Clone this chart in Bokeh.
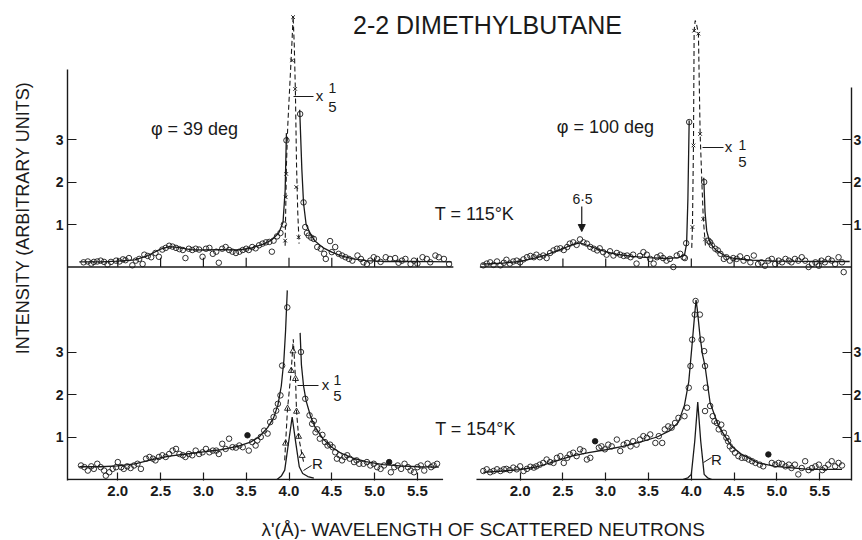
from math import pi
from bokeh.plotting import figure
from bokeh.layouts import row, column
from bokeh.models import Range1d, LinearAxis, FixedTicker, Label, Arrow, NormalHead
from bokeh.embed import file_html
from bokeh.resources import INLINE

# ---------------------------------------------------------------- data
lambda_ticks = [2.0, 2.5, 3.0, 3.5, 4.0, 4.5, 5.0, 5.5]
lambda_tick_labels = ["2.0", "2.5", "3.0", "3.5", "4.0", "4.5", "5.0", "5.5"]
intensity_ticks = [1, 2, 3]
intensity_tick_labels = ["1", "2", "3"]

# top-left: phi = 39 deg, T = 115 K
tl_lam = [1.60, 1.65, 1.69, 1.72, 1.76, 1.80, 1.84, 1.88, 1.92, 1.98, 2.02, 2.06, 2.09, 2.13, 2.17, 2.21,
          2.25, 2.29, 2.31, 2.35, 2.39, 2.44, 2.48, 2.52, 2.56, 2.60, 2.64, 2.68, 2.72, 2.76, 2.79, 2.83,
          2.87, 2.91, 2.95, 2.99, 3.03, 3.07, 3.11, 3.15, 3.18, 3.22, 3.26, 3.30, 3.34, 3.38, 3.42, 3.46,
          3.50, 3.53, 3.57, 3.61, 3.65, 3.69, 3.73, 3.77, 3.80, 3.82, 3.86, 3.90, 3.94, 3.97,
          4.13, 4.17, 4.19, 4.21, 4.23, 4.26, 4.29, 4.33, 4.37, 4.41, 4.43, 4.48, 4.50, 4.54, 4.58, 4.62,
          4.66, 4.70, 4.74, 4.80, 4.84, 4.87, 4.91, 4.95, 4.99, 5.03, 5.07, 5.13, 5.18, 5.24, 5.28, 5.32,
          5.36, 5.42, 5.46, 5.50, 5.56, 5.61, 5.65, 5.71, 5.75, 5.81, 5.87]
tl_int = [0.11, 0.13, 0.08, 0.12, 0.13, 0.15, 0.12, 0.06, 0.12, 0.15, 0.13, 0.18, 0.16, 0.21, 0.04, 0.15,
          0.19, 0.07, 0.29, 0.26, 0.23, 0.33, 0.24, 0.41, 0.45, 0.50, 0.48, 0.45, 0.42, 0.40, 0.21, 0.43,
          0.40, 0.43, 0.41, 0.24, 0.43, 0.45, 0.31, 0.36, 0.10, 0.43, 0.47, 0.40, 0.36, 0.33, 0.36, 0.40,
          0.43, 0.40, 0.47, 0.44, 0.51, 0.55, 0.58, 0.59, 0.36, 0.62, 0.72, 0.80, 1.00, 2.98,
          3.60, 1.52, 0.94, 0.80, 0.74, 0.69, 0.66, 0.47, 0.43, 0.31, 0.19, 0.61, 0.35, 0.47, 0.31, 0.27,
          0.23, 0.19, 0.15, 0.27, 0.19, 0.11, 0.07, 0.15, 0.23, 0.19, 0.12, 0.23, 0.19, 0.21, 0.10, 0.15,
          0.19, 0.07, 0.15, 0.08, 0.23, 0.19, 0.11, 0.27, 0.23, 0.19, 0.07]
tl_fit_left_lam = [1.55, 1.80, 2.00, 2.20, 2.35, 2.50, 2.60, 2.70, 2.85, 3.00, 3.20, 3.40, 3.55, 3.70,
                   3.80, 3.88, 3.93, 3.955, 3.97]
tl_fit_left_int = [0.12, 0.12, 0.14, 0.17, 0.27, 0.42, 0.48, 0.46, 0.41, 0.40, 0.41, 0.40, 0.44, 0.54,
                   0.64, 0.80, 1.05, 1.80, 3.15]
tl_fit_right_lam = [4.125, 4.15, 4.17, 4.20, 4.25, 4.30, 4.40, 4.50, 4.60, 4.75, 4.90, 5.10, 5.40, 5.90]
tl_fit_right_int = [3.70, 2.30, 1.50, 1.00, 0.78, 0.62, 0.45, 0.35, 0.27, 0.19, 0.15, 0.13, 0.13, 0.12]
tl_fifth_lam = [3.955, 3.962, 3.968, 4.036, 4.048, 4.072, 4.085, 4.112]
tl_fifth_int = [0.62, 1.64, 2.19, 4.86, 5.88, 4.19, 1.88, 0.70]
tl_fifth_fit_lam = [3.955, 3.962, 3.970, 3.985, 4.010, 4.035, 4.048, 4.062, 4.075, 4.088, 4.102, 4.118]
tl_fifth_fit_int = [0.50, 1.40, 2.40, 3.30, 4.30, 5.30, 5.90, 5.20, 4.10, 2.40, 1.30, 0.55]

# top-right: phi = 100 deg, T = 115 K
tr_lam = [1.57, 1.61, 1.65, 1.69, 1.73, 1.77, 1.81, 1.84, 1.88, 1.92, 1.96, 2.00, 2.04, 2.08, 2.12, 2.16,
          2.19, 2.23, 2.27, 2.31, 2.35, 2.39, 2.43, 2.47, 2.51, 2.55, 2.58, 2.62, 2.66, 2.70, 2.74, 2.78,
          2.82, 2.86, 2.90, 2.93, 2.97, 3.01, 3.05, 3.09, 3.13, 3.17, 3.21, 3.25, 3.29, 3.32, 3.36, 3.40,
          3.44, 3.48, 3.52, 3.56, 3.60, 3.64, 3.67, 3.71, 3.75, 3.79, 3.83, 3.87, 3.91, 3.925, 3.94, 3.975,
          4.15, 4.20, 4.22, 4.24, 4.28, 4.31, 4.34, 4.38, 4.41, 4.45, 4.49, 4.53, 4.57, 4.61, 4.65, 4.69,
          4.73, 4.78, 4.82, 4.86, 4.90, 4.94, 4.98, 5.02, 5.06, 5.10, 5.14, 5.17, 5.21, 5.25, 5.29, 5.33,
          5.37, 5.41, 5.45, 5.49, 5.52, 5.56, 5.60, 5.64, 5.68, 5.72, 5.76, 5.78]
tr_int = [0.04, 0.08, 0.11, 0.05, 0.13, 0.04, 0.10, 0.17, 0.08, 0.13, 0.15, 0.11, 0.18, 0.23, 0.26, 0.23,
          0.29, 0.23, 0.27, 0.21, 0.33, 0.39, 0.43, 0.44, 0.40, 0.47, 0.55, 0.58, 0.52, 0.65, 0.58, 0.55,
          0.47, 0.43, 0.39, 0.44, 0.35, 0.29, 0.37, 0.27, 0.33, 0.29, 0.26, 0.27, 0.23, 0.29, 0.08, 0.26,
          0.35, 0.29, 0.19, 0.08, 0.23, 0.27, 0.21, 0.15, 0.19, 0.00, 0.27, 0.31, 0.23, 0.21, 0.56, 3.41,
          2.00, 0.62, 0.58, 0.51, 0.43, 0.39, 0.31, 0.19, 0.23, 0.15, 0.21, 0.19, 0.25, 0.15, 0.21, 0.11,
          0.27, 0.07, 0.11, 0.03, 0.15, 0.19, 0.07, 0.15, 0.11, 0.19, 0.15, 0.11, 0.19, 0.15, 0.23, 0.15,
          0.00, 0.07, 0.11, 0.03, 0.15, 0.11, 0.19, 0.15, 0.07, 0.23, 0.11, -0.12]
tr_fit_left_lam = [1.55, 1.80, 2.00, 2.20, 2.35, 2.50, 2.60, 2.70, 2.80, 2.95, 3.10, 3.30, 3.50, 3.70,
                   3.85, 3.92, 3.945, 3.96, 3.975]
tr_fit_left_int = [0.07, 0.09, 0.13, 0.22, 0.32, 0.43, 0.52, 0.57, 0.50, 0.39, 0.31, 0.25, 0.22, 0.20,
                   0.22, 0.28, 0.55, 1.60, 3.45]
tr_fit_right_lam = [4.145, 4.16, 4.18, 4.21, 4.25, 4.30, 4.40, 4.50, 4.70, 5.00, 5.40, 5.85]
tr_fit_right_int = [2.10, 1.30, 0.85, 0.62, 0.48, 0.38, 0.26, 0.20, 0.16, 0.14, 0.13, 0.13]
tr_fifth_lam = [4.013, 4.025, 4.033, 4.083, 4.103, 4.140, 4.160]
tr_fifth_int = [0.94, 2.86, 5.56, 5.49, 3.13, 1.13, 0.65]
tr_fifth_fit_lam = [4.005, 4.013, 4.025, 4.033, 4.045, 4.060, 4.083, 4.103, 4.125, 4.140, 4.165]
tr_fifth_fit_int = [0.45, 0.94, 2.86, 5.56, 5.80, 5.72, 5.49, 3.13, 1.90, 1.13, 0.50]
tr_peak_marker = 2.72  # "6.5" arrow position

# bottom-left: phi = 39 deg, T = 154 K
bl_lam = [1.57, 1.61, 1.65, 1.69, 1.72, 1.76, 1.80, 1.84, 1.86, 1.90, 1.94, 1.98, 2.00, 2.04, 2.07, 2.11,
          2.15, 2.19, 2.23, 2.27, 2.33, 2.37, 2.41, 2.44, 2.48, 2.52, 2.56, 2.60, 2.64, 2.68, 2.72, 2.76,
          2.79, 2.83, 2.87, 2.91, 2.95, 2.99, 3.03, 3.07, 3.11, 3.15, 3.18, 3.22, 3.26, 3.30, 3.34, 3.38,
          3.42, 3.46, 3.53, 3.57, 3.61, 3.63, 3.67, 3.71, 3.75, 3.78, 3.82, 3.85, 3.87, 3.90, 3.92, 3.98,
          4.14, 4.19, 4.24, 4.27, 4.29, 4.31, 4.33, 4.36, 4.39, 4.42, 4.45, 4.48, 4.51, 4.54, 4.56, 4.59,
          4.62, 4.65, 4.68, 4.71, 4.76, 4.79, 4.82, 4.87, 4.91, 4.95, 4.99, 5.03, 5.07, 5.11, 5.19, 5.23,
          5.27, 5.31, 5.35, 5.39, 5.42, 5.46, 5.50, 5.54, 5.58, 5.62, 5.66, 5.69, 5.73]
bl_int = [0.33, 0.29, 0.21, 0.31, 0.25, 0.37, 0.29, 0.21, 0.09, 0.17, 0.25, 0.29, 0.41, 0.29, 0.25, 0.31,
          0.27, 0.33, 0.37, 0.25, 0.49, 0.53, 0.49, 0.45, 0.53, 0.57, 0.53, 0.60, 0.68, 0.72, 0.60, 0.57,
          0.53, 0.60, 0.57, 0.68, 0.60, 0.64, 0.72, 0.64, 0.68, 0.68, 0.60, 0.84, 0.72, 0.96, 0.76, 0.75,
          0.80, 0.76, 0.68, 0.88, 0.80, 0.92, 1.00, 1.15, 1.08, 1.35, 1.47, 1.62, 1.78, 1.98, 2.68, 4.05,
          3.00, 1.90, 1.51, 1.31, 1.38, 1.11, 1.18, 0.96, 1.05, 0.88, 0.80, 0.82, 0.76, 0.64, 0.49, 0.57,
          0.45, 0.53, 0.57, 0.49, 0.41, 0.45, 0.37, 0.37, 0.41, 0.33, 0.37, 0.29, 0.25, 0.33, 0.17, 0.29,
          0.33, 0.25, 0.37, 0.29, 0.21, 0.17, 0.29, 0.33, 0.21, 0.37, 0.29, 0.33, 0.37]
bl_filled_lam = [3.515, 5.17]
bl_filled_int = [1.04, 0.41]
bl_fit_left_lam = [1.55, 1.80, 2.00, 2.20, 2.40, 2.60, 2.80, 3.00, 3.20, 3.40, 3.55, 3.65, 3.75, 3.82,
                   3.87, 3.91, 3.94, 3.96, 3.98]
bl_fit_left_int = [0.30, 0.30, 0.32, 0.37, 0.47, 0.55, 0.60, 0.65, 0.70, 0.78, 0.88, 1.00, 1.22, 1.45,
                   1.75, 2.20, 2.80, 3.50, 4.45]
bl_fit_right_lam = [4.13, 4.145, 4.17, 4.20, 4.25, 4.30, 4.40, 4.50, 4.60, 4.75, 4.90, 5.10, 5.30, 5.50, 5.75]
bl_fit_right_int = [3.45, 2.70, 2.20, 1.85, 1.50, 1.25, 0.95, 0.76, 0.63, 0.50, 0.42, 0.35, 0.32, 0.30, 0.29]
bl_fifth_lam = [3.960, 3.983, 4.026, 4.047, 4.076, 4.088, 4.112, 4.154]
bl_fifth_int = [0.85, 1.67, 2.56, 3.02, 2.37, 1.60, 1.01, 0.56]
bl_fifth_fit_lam = [3.950, 3.960, 3.983, 4.026, 4.050, 4.076, 4.088, 4.112, 4.154, 4.170]
bl_fifth_fit_int = [0.45, 0.85, 1.67, 2.56, 3.30, 2.37, 1.60, 1.01, 0.56, 0.42]
bl_res_lam = [3.86, 3.91, 3.95, 3.99, 4.037, 4.08, 4.12, 4.16, 4.22, 4.29]
bl_res_int = [0.00, 0.08, 0.22, 0.80, 1.47, 0.85, 0.30, 0.14, 0.07, 0.03]

# bottom-right: phi = 100 deg, T = 154 K
br_lam = [1.57, 1.61, 1.65, 1.69, 1.73, 1.77, 1.81, 1.84, 1.88, 1.92, 1.96, 2.00, 2.04, 2.08, 2.12, 2.16,
          2.19, 2.23, 2.27, 2.31, 2.35, 2.39, 2.43, 2.47, 2.51, 2.55, 2.58, 2.62, 2.66, 2.70, 2.74, 2.78,
          2.82, 2.92, 2.95, 2.99, 3.03, 3.07, 3.13, 3.17, 3.21, 3.25, 3.29, 3.32, 3.36, 3.40, 3.44, 3.48,
          3.52, 3.58, 3.62, 3.66, 3.69, 3.73, 3.77, 3.81, 3.85, 3.92, 3.95, 3.97, 3.99, 4.01, 4.04, 4.05,
          4.10,
          4.12, 4.15, 4.16, 4.17, 4.16, 4.22, 4.25, 4.27, 4.30, 4.35, 4.32, 4.38, 4.41, 4.43, 4.45, 4.48,
          4.51, 4.55, 4.59, 4.63, 4.67, 4.71, 4.75, 4.80, 4.84, 4.94, 4.98, 5.02, 5.06, 5.10, 5.14, 5.17,
          5.21, 5.25, 5.29, 5.33, 5.37, 5.41, 5.45, 5.49, 5.53, 5.56, 5.60, 5.64, 5.68, 5.72, 5.76]
br_int = [0.20, 0.24, 0.17, 0.20, 0.24, 0.20, 0.24, 0.25, 0.22, 0.28, 0.24, 0.31, 0.20, 0.25, 0.30, 0.28,
          0.31, 0.35, 0.39, 0.47, 0.41, 0.39, 0.51, 0.55, 0.39, 0.51, 0.59, 0.63, 0.55, 0.71, 0.67, 0.47,
          0.51, 0.75, 0.78, 0.71, 0.82, 0.78, 0.94, 0.67, 0.82, 0.86, 0.78, 0.90, 0.82, 0.94, 1.02, 0.98,
          1.06, 0.86, 1.02, 0.86, 1.18, 1.25, 1.22, 1.33, 1.45, 1.49, 1.69, 2.16, 2.67, 3.29, 3.88, 4.20,
          3.88,
          3.29, 3.02, 2.67, 2.16, 1.61, 1.73, 1.49, 1.37, 1.33, 1.29, 1.18, 1.10, 0.98, 0.90, 0.78, 0.71,
          0.63, 0.55, 0.51, 0.51, 0.47, 0.43, 0.39, 0.35, 0.31, 0.39, 0.35, 0.39, 0.37, 0.31, 0.35, 0.27,
          0.35, 0.12, 0.27, 0.43, 0.22, 0.27, 0.31, 0.35, 0.22, 0.27, 0.35, 0.43, 0.31, 0.39, 0.33]
br_filled_lam = [2.876, 4.90]
br_filled_int = [0.90, 0.59]
br_fit_lam = [1.57, 1.80, 2.00, 2.20, 2.40, 2.60, 2.80, 3.00, 3.20, 3.40, 3.60, 3.75, 3.85, 3.92, 3.97,
              4.01, 4.04, 4.055, 4.07, 4.10, 4.13, 4.16, 4.22, 4.32, 4.47, 4.59, 4.78, 4.98, 5.37, 5.76]
br_fit_int = [0.17, 0.20, 0.23, 0.30, 0.42, 0.55, 0.63, 0.70, 0.78, 0.88, 1.00, 1.15, 1.35, 1.75, 2.30,
              3.20, 3.90, 4.22, 4.00, 3.40, 2.95, 2.67, 1.80, 1.25, 0.78, 0.59, 0.39, 0.31, 0.24, 0.24]
br_res_lam = [3.90, 3.96, 4.00, 4.04, 4.075, 4.11, 4.15, 4.19, 4.24]
br_res_int = [0.00, 0.04, 0.12, 0.90, 1.82, 0.90, 0.12, 0.04, 0.00]

# ---------------------------------------------------------------- layout
PX_PER_A = 85.6          # pixels per angstrom
PX_PER_I = 42.5          # pixels per intensity unit
YLAB_W = 40              # width of the strip holding the vertical axis title
XLAB_H = 31              # height of the strip holding the horizontal axis title
FRAME_L, FRAME_T, FRAME_B = 67, 3, 480      # page pixels
FRAME_W = 784
MAIN_H = 508
X0 = 2.0 - (117.3 - FRAME_L) / PX_PER_A
X1 = X0 + FRAME_W / PX_PER_A
Y0 = (479 - FRAME_B) / PX_PER_I
Y1 = (479 - FRAME_T) / PX_PER_I
SHIFT_X = 4.70           # right-hand panels are offset by this many angstrom
SHIFT_Y = 5.0            # upper panels are offset by this many intensity units
FONT = "Liberation Sans"
INK = "#1a1a1a"


def X(px):   # page pixel column -> left-panel wavelength
    return X0 + (px - FRAME_L) / PX_PER_A


def Y(py):   # page pixel row -> lower-panel intensity
    return (479 - py) / PX_PER_I


p = figure(frame_width=FRAME_W, frame_height=FRAME_B - FRAME_T,
           x_range=Range1d(X0, X1), y_range=Range1d(Y0, Y1),
           output_backend="svg", toolbar_location=None,
           min_border_left=FRAME_L - YLAB_W, min_border_top=FRAME_T,
           min_border_bottom=MAIN_H - FRAME_B, min_border_right=0)
p.extra_x_ranges = {"right": Range1d(X0 - SHIFT_X, X1 - SHIFT_X)}
p.extra_y_ranges = {"top": Range1d(Y0 - SHIFT_Y, Y1 - SHIFT_Y)}
p.outline_line_color = None
p.grid.visible = False
p.background_fill_color = "white"
p.border_fill_color = "white"

# bottom axis: ticks of both lower panels
xticks = lambda_ticks + [t + SHIFT_X for t in lambda_ticks]
xa = p.xaxis[0]
xa.ticker = FixedTicker(ticks=xticks)
xa.major_label_overrides = dict(zip(xticks, lambda_tick_labels * 2))
xa.major_tick_in = 8
xa.major_tick_out = 0
xa.minor_tick_line_color = None
xa.axis_line_color = None
xa.major_tick_line_color = INK
xa.major_tick_line_width = 1.2
xa.major_label_standoff = 5
xa.major_label_text_font = FONT
xa.major_label_text_font_style = "bold"
xa.major_label_text_font_size = "15px"
xa.major_label_text_color = INK

# left / right axes: ticks of both rows
yticks = intensity_ticks + [t + SHIFT_Y for t in intensity_ticks]
ylabels = dict(zip(yticks, intensity_tick_labels * 2))
ya = p.yaxis[0]
ya.bounds = (Y0, Y(69))
ra = LinearAxis(bounds=(Y0, Y(87)))
p.add_layout(ra, "right")
for ax in (ya, ra):
    ax.ticker = FixedTicker(ticks=yticks)
    ax.major_label_overrides = ylabels
    ax.major_tick_in = 9
    ax.major_tick_out = 0
    ax.minor_tick_line_color = None
    ax.axis_line_color = INK
    ax.axis_line_width = 1.4
    ax.major_tick_line_color = INK
    ax.major_tick_line_width = 1.2
    ax.major_label_text_font = FONT
    ax.major_label_text_font_style = "bold"
    ax.major_label_text_font_size = "14px"
    ax.major_label_text_color = INK
ya.major_label_standoff = 4
ra.major_label_standoff = 2

# baselines of the panels and the tick marks of the upper panels
base = dict(line_color=INK, line_width=1.3)
p.line([X0, 5.92], [0, 0], y_range_name="top", **base)
p.line([1.53, X1 - SHIFT_X], [0, 0], x_range_name="right", y_range_name="top", **base)
p.line([X0, 5.80], [0, 0], **base)
p.line([1.49, X1 - SHIFT_X], [0, 0], x_range_name="right", **base)
tk = dict(line_color=INK, line_width=1.2)
p.segment(x0=lambda_ticks, y0=0, x1=lambda_ticks, y1=0.22, y_range_name="top", **tk)
p.segment(x0=lambda_ticks, y0=0, x1=lambda_ticks, y1=0.2, x_range_name="right",
          y_range_name="top", **tk)

# ---------------------------------------------------------------- data glyphs
fit = dict(line_color=INK, line_width=1.3)
dash = dict(line_color=INK, line_width=1.1, line_dash="5 3")
circ = dict(marker="circle", size=5.5, line_color=INK, line_width=0.9, fill_color=None)
dot = dict(marker="circle", size=5.5, line_color=INK, line_width=0.9, fill_color=INK)
cross = dict(marker="x", size=5, line_color=INK, line_width=1.0)
tri = dict(marker="triangle", size=6, line_color=INK, line_width=0.9, fill_color=None)

TL = dict(y_range_name="top")
TR = dict(x_range_name="right", y_range_name="top")
BL = dict()
BR = dict(x_range_name="right")

p.line(tl_fit_left_lam, tl_fit_left_int, **fit, **TL)
p.line(tl_fit_right_lam, tl_fit_right_int, **fit, **TL)
p.line(tl_fifth_fit_lam, tl_fifth_fit_int, **dash, **TL)
p.scatter(tl_lam, tl_int, **circ, **TL)
p.scatter(tl_fifth_lam, tl_fifth_int, **cross, **TL)

p.line(tr_fit_left_lam, tr_fit_left_int, **fit, **TR)
p.line(tr_fit_right_lam, tr_fit_right_int, **fit, **TR)
p.line(tr_fifth_fit_lam, tr_fifth_fit_int, **dash, **TR)
p.scatter(tr_lam, tr_int, **circ, **TR)
p.scatter(tr_fifth_lam, tr_fifth_int, **cross, **TR)

p.line(bl_fit_left_lam, bl_fit_left_int, **fit, **BL)
p.line(bl_fit_right_lam, bl_fit_right_int, **fit, **BL)
p.line(bl_fifth_fit_lam, bl_fifth_fit_int, **dash, **BL)
p.line(bl_res_lam, bl_res_int, **fit, **BL)
p.scatter(bl_lam, bl_int, **circ, **BL)
p.scatter(bl_filled_lam, bl_filled_int, **dot, **BL)
p.scatter(bl_fifth_lam, bl_fifth_int, **tri, **BL)

p.line(br_fit_lam, br_fit_int, **fit, **BR)
p.line(br_res_lam, br_res_int, **fit, **BR)
p.scatter(br_lam, br_int, **circ, **BR)
p.scatter(br_filled_lam, br_filled_int, **dot, **BR)


# ---------------------------------------------------------------- annotations
def text(fig, s, x, y, size, angle=0.0):
    fig.add_layout(Label(x=x, y=y, text=s, angle=angle, text_align="center",
                         text_baseline="middle", text_font=FONT, text_font_size=size,
                         text_color=INK))


def ptext(s, px, py, size):
    text(p, s, X(px), Y(py), size)


ptext("2-2 DIMETHYLBUTANE", 487, 24, "25px")
ptext("φ = 39 deg", 194, 128, "18px")
ptext("φ = 100 deg", 605, 126, "18px")
ptext("T = 115°K", 474, 213, "18px")
ptext("T = 154°K", 475, 428, "18px")
ptext("6·5", 582, 198, "14px")
ptext("R", 317, 463, "15px")
ptext("R", 716, 459, "15px")

# "x 1/5" marks: leader start, leader end, leader row, x column, fraction column, 1 row, 5 row
fifth_marks = [(293, 313, 96, 319, 332, 87, 106),
               (702, 723, 147, 728, 742, 144, 161),
               (297, 318, 385, 325, 337, 379, 395)]
lx0, lx1, ly = [], [], []
for a, b, rw, xc, fc, r1, r5 in fifth_marks:
    lx0.append(X(a)); lx1.append(X(b)); ly.append(Y(rw))
    ptext("x", xc, rw - 1, "15px")
    ptext("1", fc, r1, "14px")
    ptext("5", fc, r5, "15px")
p.segment(x0=lx0, y0=ly, x1=lx1, y1=ly, line_color=INK, line_width=1.0)

# leaders from the resolution curves to their "R"
p.segment(x0=[X(303), X(703)], y0=[Y(470), Y(462)], x1=[X(311), X(711)], y1=[Y(465), Y(457)],
          line_color=INK, line_width=1.0)

# arrow marking the 6.5 peak
p.add_layout(Arrow(x_start=tr_peak_marker, y_start=Y(206) - SHIFT_Y,
                   x_end=tr_peak_marker, y_end=Y(231) - SHIFT_Y,
                   x_range_name="right", y_range_name="top",
                   line_color=INK, line_width=1.2,
                   end=NormalHead(size=7, fill_color=INK, line_color=INK)))


# ---------------------------------------------------------------- axis titles (own strips)
def strip(w, h):
    f = figure(width=w, height=h, x_range=Range1d(0, w), y_range=Range1d(h, 0),
               x_axis_type=None, y_axis_type=None, toolbar_location=None,
               output_backend="svg", min_border=0)
    f.outline_line_color = None
    f.background_fill_color = "white"
    f.border_fill_color = "white"
    return f


ylab = strip(YLAB_W, MAIN_H + XLAB_H)
text(ylab, "INTENSITY  (ARBITRARY UNITS)", 22, 215, "18px", angle=pi / 2)
xlab = strip(FRAME_W + FRAME_L - YLAB_W + 10, XLAB_H)
text(xlab, "λ'(Å)- WAVELENGTH OF SCATTERED NEUTRONS", 477 - YLAB_W, 529 - MAIN_H, "19px")

layout = row(ylab, column(p, xlab, spacing=0), spacing=0)
open("out.html", "w").write(file_html(layout, INLINE))
